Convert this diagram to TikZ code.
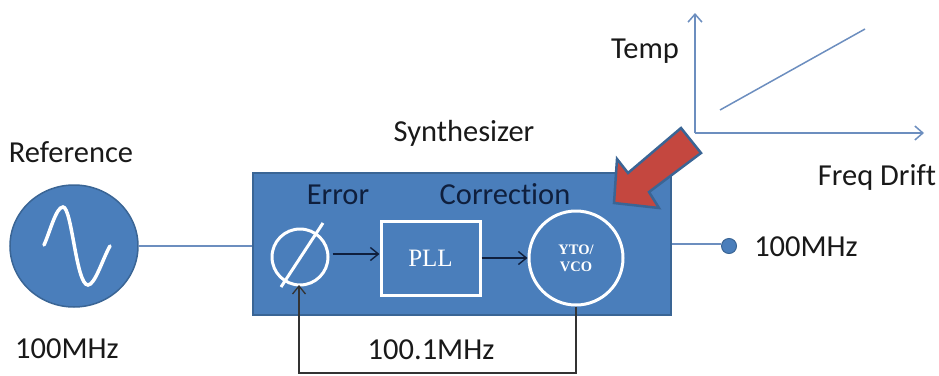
\documentclass[tikz,border=0pt]{standalone}
\usepackage{xcolor}
\usepackage{fontspec}
\usepackage{tikz}
\usetikzlibrary{positioning}
\usetikzlibrary{arrows.meta}
\usetikzlibrary{shapes.geometric}
\setmainfont{Carlito}[Ligatures=NoCommon]
\newfontfamily\pllfont{Liberation Serif}
\definecolor{boxblue}{HTML}{4A7EBB}
\definecolor{edgeblue}{HTML}{3A6595}
\definecolor{axisblue}{HTML}{6C8EBF}
\definecolor{arrowred}{HTML}{C4473F}
\definecolor{labelnavy}{HTML}{0F1F3D}
\tikzset{
	textlabel/.style={inner sep=0pt, font=\fontsize{30.5}{33}\selectfont, text=black!90},
	inlabel/.style={textlabel, text=labelnavy},
	whitering/.style={circle, draw=white, line width=3pt, inner sep=0pt},
	inarrow/.style={-{Straight Barb[length=8pt,width=13pt]}, draw=labelnavy, line width=1.4pt},
	axis/.style={-{Straight Barb[length=8pt,width=14pt]}, draw=axisblue, line width=1.5pt},
	wire/.style={draw=axisblue, line width=1.5pt},
}
\begin{document}
\begin{tikzpicture}[x=1pt, y=-1pt]
	\useasboundingbox (0,0) rectangle (939,375);
	% source and main box
	\node[draw=edgeblue, fill=boxblue, line width=1.5pt, inner sep=0pt, minimum width=418pt, minimum height=142pt] (synth) at (462,244) {};
	\node[draw=edgeblue, fill=boxblue, ellipse, line width=1.5pt, inner sep=0pt, minimum width=128pt, minimum height=122pt] (ref) at (74,246) {};
	\draw[white, line width=3.5pt, line cap=round] (44,245) .. controls (50,232) and (56,207) .. (63,207) .. controls (72,207) and (76,285) .. (88,285) .. controls (95,285) and (103,258) .. (110,246);
	\draw[wire] (ref.east) -- (synth.west |- ref.east);
	% blocks inside
	\node[whitering, minimum size=56pt] (phase) at (300,257) {};
	\coordinate (slasha) at (281,287);
	\coordinate (slashb) at (323,223);
	\draw[white, line width=3pt] (slasha) -- (slashb);
	\node[draw=white, line width=3pt, minimum width=99pt, minimum height=74pt, inner sep=0pt, text=white, font=\pllfont\fontsize{25}{27}\selectfont] (pll) at (430.5,258) {PLL};
	\node[whitering, minimum size=94pt, align=center, text=white, font=\pllfont\bfseries\fontsize{14.5}{17}\selectfont] (vco) at (576,258) {YTO/\\VCO};
	\draw[inarrow] ([xshift=3pt]phase.east |- 0,254) -- (pll.west |- 0,254);
	\draw[inarrow] (pll.east) -- (vco.west);
	% feedback
	\coordinate (fbright) at (576,373);
	\coordinate (fbleft) at (299,373);
	\draw[-{Straight Barb[length=8pt,width=13pt]}, draw=black!80, line width=1.3pt, line join=miter] (vco.south) -- (fbright) -- (fbleft) -- (299,285);
	% output
	\node[circle, fill=boxblue, draw=edgeblue, line width=1pt, minimum size=15pt, inner sep=0pt] (out) at (729,246) {};
	\draw[wire] (synth.east |- 0,244) -- (out.west |- 0,244);
	% drift plot
	\coordinate (origin) at (695,133);
	\coordinate (ytop) at (695,13);
	\coordinate (xend) at (924,133);
	\coordinate (drifta) at (720,110);
	\coordinate (driftb) at (865,29);
	\draw[axis] (origin) -- (ytop);
	\draw[axis] (origin) -- (xend);
	\draw[wire] (drifta) -- (driftb);
	% red arrow
	\draw[fill=arrowred, draw=edgeblue, line width=2.5pt] (681,128) -- (701,153) -- (649,192) -- (659,208) -- (614,203) -- (617,159) -- (628,173) -- cycle;
	% labels
	\node[textlabel] (reflabel) at (71,152) {Reference};
	\node[textlabel] (reffreq) at (67,349) {100MHz};
	\node[textlabel] (synthlabel) at (464,133) {Synthesizer};
	\node[inlabel] (errlabel) at (338,195) {Error};
	\node[inlabel] (corrlabel) at (505,194) {Correction};
	\node[textlabel] (fblabel) at (431,350) {100.1MHz};
	\node[textlabel] (outfreq) at (806,247) {100MHz};
	\node[textlabel] (templabel) at (645,51) {Temp};
	\node[textlabel] (driftlabel) at (877,177) {Freq Drift};
\end{tikzpicture}
\end{document}
